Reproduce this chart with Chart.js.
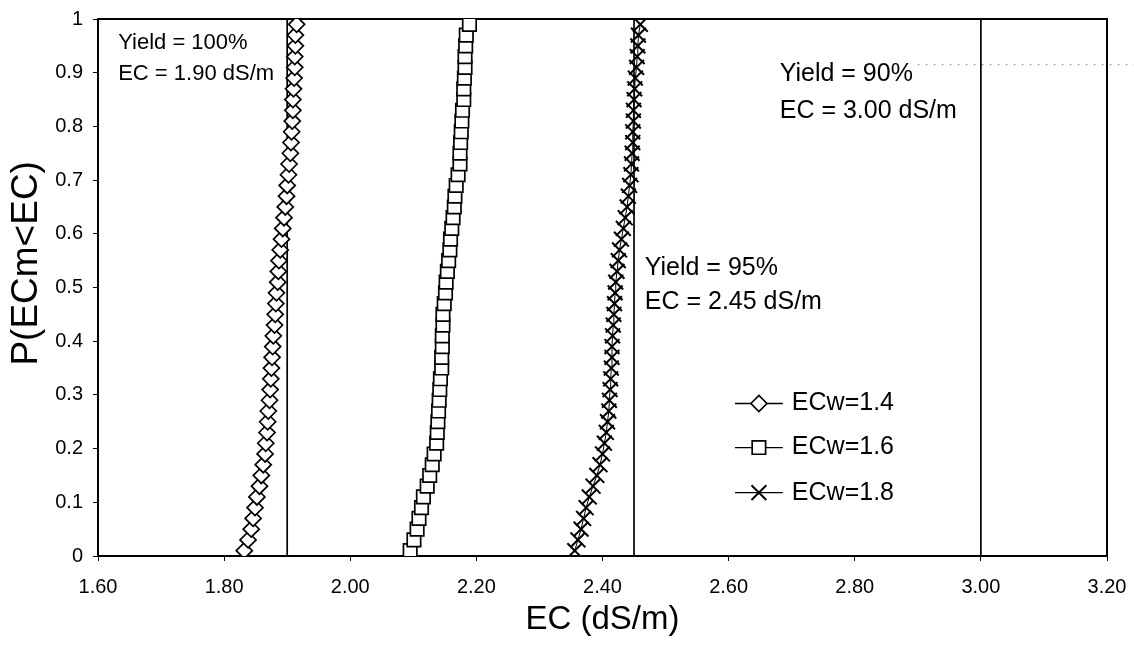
<!DOCTYPE html>
<html><head><meta charset="utf-8">
<script src="https://cdn.jsdelivr.net/npm/chart.js@4.4.1/dist/chart.umd.min.js"></script>
<style>html,body{margin:0;padding:0;background:#fff}#wrap{width:1134px;height:648px;position:relative}</style>
</head><body><div id="wrap"><canvas id="c" width="1134" height="648"></canvas></div>
<script>
// ---- data ----
const probabilities = [0.01,0.03,0.05,0.07,0.09,0.11,0.13,0.15,0.17,0.19,0.21,0.23,0.25,0.27,0.29,0.31,0.33,0.35,0.37,0.39,0.41,0.43,0.45,0.47,0.49,0.51,0.53,0.55,0.57,0.59,0.61,0.63,0.65,0.67,0.69,0.71,0.73,0.75,0.77,0.79,0.81,0.83,0.85,0.87,0.89,0.91,0.93,0.95,0.97,0.99];
const ecw14 = [1.832,1.838,1.843,1.846,1.849,1.852,1.856,1.859,1.862,1.865,1.866,1.868,1.869,1.870,1.872,1.873,1.874,1.875,1.876,1.877,1.878,1.880,1.881,1.882,1.883,1.885,1.886,1.887,1.889,1.891,1.893,1.895,1.897,1.899,1.900,1.902,1.903,1.905,1.906,1.907,1.908,1.909,1.909,1.910,1.911,1.912,1.912,1.913,1.913,1.915];
const ecw16 = [2.095,2.101,2.106,2.109,2.113,2.116,2.122,2.126,2.130,2.133,2.137,2.138,2.139,2.140,2.141,2.142,2.143,2.145,2.145,2.146,2.146,2.147,2.147,2.149,2.151,2.152,2.154,2.156,2.158,2.159,2.161,2.163,2.165,2.166,2.168,2.171,2.174,2.174,2.175,2.176,2.177,2.178,2.180,2.180,2.181,2.182,2.182,2.183,2.184,2.189];
const ecw18 = [2.356,2.361,2.366,2.370,2.374,2.379,2.385,2.391,2.396,2.400,2.403,2.406,2.408,2.410,2.411,2.412,2.413,2.414,2.415,2.415,2.416,2.417,2.418,2.419,2.420,2.421,2.423,2.425,2.427,2.430,2.433,2.436,2.439,2.441,2.443,2.445,2.446,2.447,2.448,2.448,2.449,2.449,2.450,2.451,2.452,2.454,2.455,2.456,2.457,2.460];
const seriesLabels = ['ECw=1.4','ECw=1.6','ECw=1.8'];
const thresholdEC = [1.90, 2.45, 3.00];
const thresholdYield = ['100%', '95%', '90%'];
const dottedGuideX = [2.90, 3.245];
const dottedGuideY = 0.915;
const xTicks = [1.6,1.8,2.0,2.2,2.4,2.6,2.8,3.0,3.2];
const yTicks = [0,0.1,0.2,0.3,0.4,0.5,0.6,0.7,0.8,0.9,1];
const xTitle = 'EC (dS/m)';
const yTitle = 'P(ECm<EC)';

// ---- presentation ----
const FONT = '"Liberation Sans", Arial, sans-serif';
const markerStyles = [
  {pointStyle:'rectRot', radius:8, borderWidth:1.7},
  {pointStyle:'rect', radius:9.5, borderWidth:1.7},
  {pointStyle:'crossRot', radius:10.5, borderWidth:2}
];
const seriesValues = [ecw14, ecw16, ecw18];
const notePlacement = [
  {x:1.632, y:[0.955, 0.898], size:22},
  {x:2.467, y:[0.536, 0.473], size:25},
  {x:2.681, y:[0.898, 0.829], size:25}
];
const legendPlacement = {x0:2.610, x1:2.686, y:[0.284, 0.202, 0.118], size:25};

const datasets = [];
seriesValues.forEach((vals, i) => {
  const st = markerStyles[i];
  datasets.push({
    label: seriesLabels[i],
    data: probabilities.map((p, k) => ({x: vals[k], y: p})),
    showLine: true,
    borderColor: '#000', borderWidth: 1,
    pointStyle: st.pointStyle, pointRadius: st.radius, pointBorderWidth: st.borderWidth,
    pointBackgroundColor: '#fff', pointBorderColor: '#000',
    order: 1
  });
});
thresholdEC.forEach((ec, i) => {
  datasets.push({
    label: 'Yield ' + thresholdYield[i],
    data: [{x: ec, y: 0}, {x: ec, y: 1}],
    showLine: true, borderColor: '#000', borderWidth: 1.7, pointRadius: 0,
    order: 5
  });
});
datasets.push({
  label: 'guide',
  data: [{x: dottedGuideX[0], y: dottedGuideY}, {x: dottedGuideX[1], y: dottedGuideY}],
  showLine: true, borderColor: '#8a8a8a', borderWidth: 1.3, borderDash: [1.5, 6.5], pointRadius: 0,
  clip: false, order: 6
});

const framePlugin = {
  id: 'frame',
  beforeDatasetsDraw(chart) {
    const {ctx, chartArea: a} = chart;
    ctx.save();
    ctx.strokeStyle = '#000'; ctx.lineWidth = 2;
    ctx.beginPath();
    ctx.moveTo(a.left, a.top); ctx.lineTo(a.right, a.top); ctx.lineTo(a.right, a.bottom);
    ctx.stroke();
    ctx.restore();
  }
};

const yTitlePlugin = {
  id: 'yTitle',
  afterDraw(chart) {
    const {ctx, scales: {y}} = chart;
    ctx.save();
    ctx.translate(27, y.getPixelForValue(0.545));
    ctx.rotate(-Math.PI / 2);
    ctx.fillStyle = '#000'; ctx.font = '37px ' + FONT;
    ctx.textAlign = 'center'; ctx.textBaseline = 'middle';
    ctx.fillText(yTitle, 0, 0);
    ctx.restore();
  }
};

const notesPlugin = {
  id: 'notes',
  afterDatasetsDraw(chart) {
    const {ctx, scales: {x, y}} = chart;
    ctx.save();
    ctx.fillStyle = '#000'; ctx.textBaseline = 'middle'; ctx.textAlign = 'left';
    notePlacement.forEach((n, i) => {
      ctx.font = n.size + 'px ' + FONT;
      const lines = ['Yield = ' + thresholdYield[i], 'EC = ' + thresholdEC[i].toFixed(2) + ' dS/m'];
      lines.forEach((t, j) => ctx.fillText(t, x.getPixelForValue(n.x), y.getPixelForValue(n.y[j])));
    });
    ctx.restore();
  }
};

const legendPlugin = {
  id: 'customLegend',
  afterDatasetsDraw(chart) {
    const {ctx, scales: {x, y}} = chart;
    const L = legendPlacement;
    const lx0 = x.getPixelForValue(L.x0), lx1 = x.getPixelForValue(L.x1);
    ctx.save();
    seriesLabels.forEach((lab, i) => {
      const cy = y.getPixelForValue(L.y[i]);
      const st = markerStyles[i];
      ctx.strokeStyle = '#000'; ctx.lineWidth = 1.3;
      ctx.beginPath(); ctx.moveTo(lx0, cy); ctx.lineTo(lx1, cy); ctx.stroke();
      ctx.fillStyle = '#fff'; ctx.lineWidth = st.borderWidth;
      Chart.helpers.drawPoint(ctx, {pointStyle: st.pointStyle, radius: st.radius, rotation: 0, borderWidth: st.borderWidth}, (lx0 + lx1) / 2, cy);
      ctx.fillStyle = '#000'; ctx.font = L.size + 'px ' + FONT; ctx.textBaseline = 'middle'; ctx.textAlign = 'left';
      ctx.fillText(lab, lx1 + 9, cy);
    });
    ctx.restore();
  }
};

new Chart(document.getElementById('c'), {
  type: 'scatter',
  data: {datasets},
  options: {
    responsive: false, animation: false, devicePixelRatio: 1,
    layout: {padding: {left: 0, right: 27, top: 19, bottom: 0}},
    plugins: {legend: {display: false}, tooltip: {enabled: false}},
    elements: {line: {tension: 0}},
    scales: {
      x: {
        type: 'linear', min: 1.6, max: 3.2,
        afterBuildTicks: s => { s.ticks = xTicks.map(v => ({value: v})); },
        afterFit: s => { s.height = 92; s.paddingLeft = 0; s.paddingRight = 0; },
        ticks: {color: '#000', font: {family: FONT, size: 20}, padding: 14, maxRotation: 0,
                callback: v => Number(v).toFixed(2)},
        grid: {display: true, drawOnChartArea: false, drawTicks: true, tickLength: 5, color: '#000', lineWidth: 1},
        border: {display: true, color: '#000', width: 2},
        title: {display: true, text: xTitle, color: '#000', font: {family: FONT, size: 33}, padding: {top: 4, bottom: 8}}
      },
      y: {
        type: 'linear', min: 0, max: 1,
        afterBuildTicks: s => { s.ticks = yTicks.map(v => ({value: v})); },
        afterFit: s => { s.width = 98; s.paddingTop = 0; s.paddingBottom = 0; },
        ticks: {color: '#000', font: {family: FONT, size: 20}, padding: 10,
                callback: v => String(Number(Number(v).toFixed(1)))},
        grid: {display: true, drawOnChartArea: false, drawTicks: true, tickLength: 5, color: '#000', lineWidth: 1},
        border: {display: true, color: '#000', width: 2},
        title: {display: false, text: yTitle}
      }
    }
  },
  plugins: [framePlugin, notesPlugin, legendPlugin, yTitlePlugin]
});
</script></body></html>
